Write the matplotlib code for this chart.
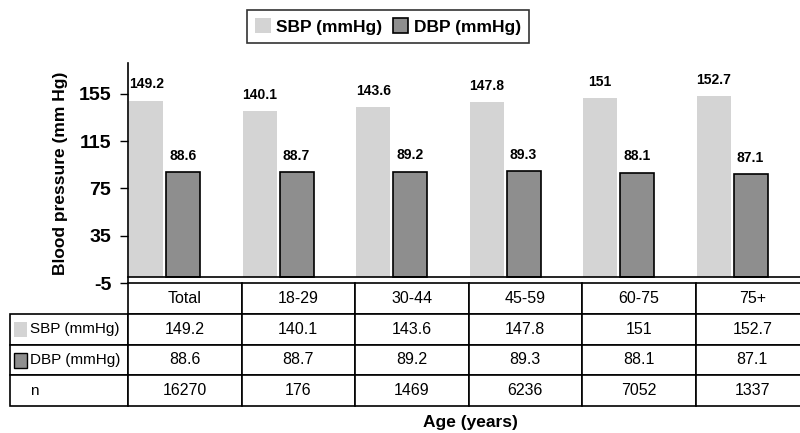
import matplotlib
matplotlib.use('Agg')
import matplotlib.pyplot as plt
from matplotlib.patches import Rectangle
import numpy as np

plt.rcParams['font.family'] = ['Liberation Sans', 'DejaVu Sans']

# data
groups = ['Total', '18-29', '30-44', '45-59', '60-75', '75+']
sbp = [149.2, 140.1, 143.6, 147.8, 151, 152.7]
dbp = [88.6, 88.7, 89.2, 89.3, 88.1, 87.1]
n_counts = [16270, 176, 1469, 6236, 7052, 1337]
yticks = [-5, 35, 75, 115, 155]

sbp_color = '#d4d4d4'
dbp_color = '#8e8e8e'

W, H = 800, 433
fig = plt.figure(figsize=(W / 100, H / 100), dpi=100)

# axes in pixel coords: left 128, right 809, top 63, bottom 283
ax_l, ax_r, ax_t, ax_b = 128, 809, 63, 283
ax = fig.add_axes([ax_l / W, 1 - ax_b / H, (ax_r - ax_l) / W, (ax_b - ax_t) / H])

x = np.arange(len(groups))
bw = 0.3
b1 = ax.bar(x + 0.01, sbp, width=bw, align='edge', color=sbp_color, edgecolor='none')
b2 = ax.bar(x + 0.335, dbp, width=bw, align='edge', color=dbp_color,
            edgecolor='black', linewidth=1.2)

for rect, v in zip(b1, sbp):
    ax.text(rect.get_x() + rect.get_width() / 2, v + 8, '{:g}'.format(v),
            ha='center', va='bottom', fontsize=10, fontweight='bold')
for rect, v in zip(b2, dbp):
    ax.text(rect.get_x() + rect.get_width() / 2, v + 8, '{:g}'.format(v),
            ha='center', va='bottom', fontsize=10, fontweight='bold')

ax.set_xlim(0, len(groups))
ax.set_ylim(-5, 181)
ax.set_yticks(yticks)
ax.set_yticklabels([str(t) for t in yticks], fontsize=14, fontweight='bold')
ax.tick_params(axis='y', length=6, width=1, pad=6)
ax.set_xticks([])
ax.spines['top'].set_visible(False)
ax.spines['right'].set_visible(False)
ax.spines['bottom'].set_position(('data', 0))
ax.spines['left'].set_linewidth(1.2)
ax.spines['bottom'].set_linewidth(1.2)
ax.set_ylabel('Blood pressure (mm Hg)', fontsize=12.5, fontweight='bold', labelpad=8)

# table below the axes
cell_text = [[''] + groups,
             ['SBP (mmHg)'] + ['{:g}'.format(v) for v in sbp],
             ['DBP (mmHg)'] + ['{:g}'.format(v) for v in dbp],
             ['n'] + [str(v) for v in n_counts]]
axw = ax_r - ax_l
axh = ax_b - ax_t
tbl_left, tbl_bottom = 10, 406
col_w = [118] + [axw / len(groups)] * len(groups)
tbl = ax.table(cellText=cell_text, colWidths=[c / sum(col_w) for c in col_w],
               cellLoc='center',
               bbox=[(tbl_left - ax_l) / axw, -(tbl_bottom - ax_b) / axh,
                     (ax_r - tbl_left) / axw, (tbl_bottom - ax_b) / axh])
tbl.auto_set_font_size(False)
tbl.set_fontsize(11.5)
for (r, c), cell in tbl.get_celld().items():
    cell.set_linewidth(1.2)
    cell.set_edgecolor('black')
    if c == 0:
        cell.set_text_props(ha='left', fontsize=11)
        cell.PAD = 0.17
tbl[0, 0].visible_edges = 'open'

# swatches in the row labels
for yy, col, ec in [(322, sbp_color, 'none'), (353, dbp_color, 'black')]:
    fig.patches.append(Rectangle((14 / W, 1 - (yy + 15) / H), 13 / W, 15 / H,
                                 transform=fig.transFigure, facecolor=col,
                                 edgecolor=ec, linewidth=1))

fig.text(470 / W, 1 - 422 / H, 'Age (years)', ha='center', va='center',
         fontsize=12.5, fontweight='bold')

leg = fig.legend([b1, b2], ['SBP (mmHg)', 'DBP (mmHg)'], loc='center',
                 bbox_to_anchor=(388 / W, 1 - 26.5 / H), ncol=2, frameon=True,
                 fancybox=False, edgecolor='black', handlelength=0.9,
                 handleheight=0.9, handletextpad=0.3, columnspacing=0.6,
                 borderpad=0.5, prop={'size': 12.5, 'weight': 'bold'})
leg.get_frame().set_linewidth(1.2)

fig.savefig('out.png', dpi=100)
